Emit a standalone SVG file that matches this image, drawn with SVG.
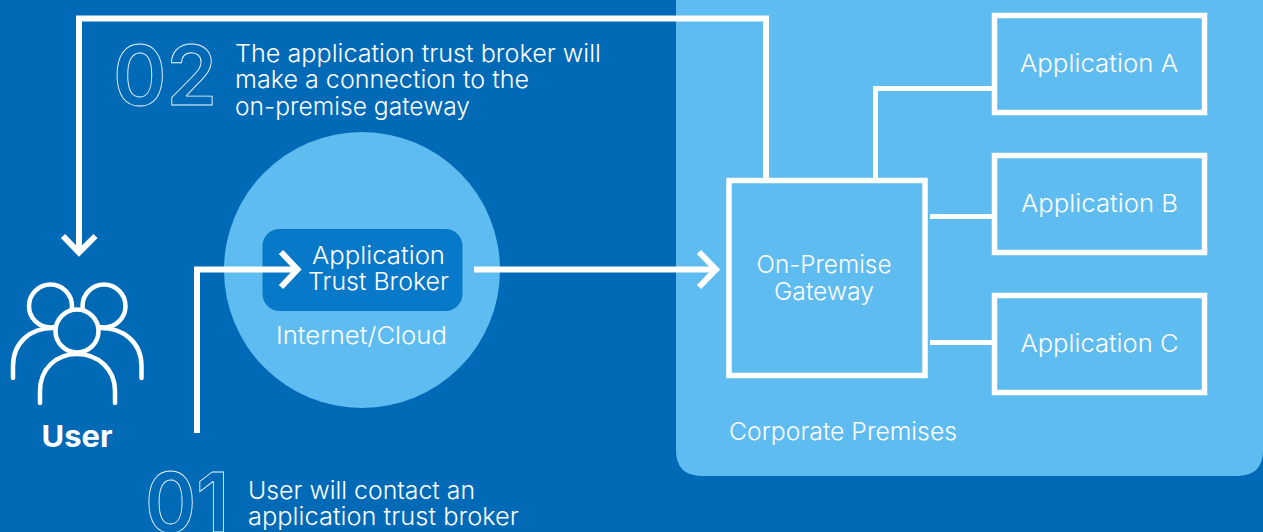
<svg xmlns="http://www.w3.org/2000/svg" width="1263" height="532" viewBox="0 0 1263 532">
<defs><style>
text{font-family:"Inter","Liberation Sans",sans-serif;font-weight:300;fill:#fff;font-size:24px}
.m{text-anchor:middle}
.w{fill:none;stroke:#fff;stroke-width:6;stroke-miterlimit:10}
.ws{fill:none;stroke:#fff;stroke-width:5}
.box{fill:none;stroke:#fff;stroke-width:5.5}
.num{fill:none;stroke:#fff;stroke-width:0.9;stroke-opacity:.9;font-size:82px;font-weight:600}
.ic{fill:none;stroke:#fff;stroke-width:4.500;stroke-linecap:round}
</style></defs>
<rect width="1263" height="532" fill="#006AB7"/>
<g id="corporate-premises">
<path d="M676 -10H1263V450Q1263 476 1237 476H702Q676 476 676 450Z" fill="#5EBCF0"/>
<text x="729" y="440" textLength="228" lengthAdjust="spacingAndGlyphs">Corporate Premises</text>
</g>
<g id="internet-cloud">
<circle cx="362" cy="270" r="138" fill="#5EBCF0"/>
<text x="361.500" y="344" class="m" textLength="171" lengthAdjust="spacingAndGlyphs">Internet/Cloud</text>
</g>
<g id="trust-broker">
<rect x="262.500" y="229" width="200" height="82" rx="17" fill="#0878C8"/>
<text x="378.500" y="264" class="m" textLength="133" lengthAdjust="spacingAndGlyphs">Application</text>
<text x="378.500" y="289.500" class="m" textLength="141" lengthAdjust="spacingAndGlyphs">Trust Broker</text>
</g>
<g id="gateway">
<rect x="729" y="180.500" width="196" height="195" class="box"/>
<text x="824" y="273" class="m" textLength="135" lengthAdjust="spacingAndGlyphs">On-Premise</text>
<text x="824" y="300" class="m" textLength="100" lengthAdjust="spacingAndGlyphs">Gateway</text>
</g>
<g id="app-a"><rect x="994.500" y="15.500" width="210" height="97" class="box"/><text x="1099" y="72" class="m" textLength="158" lengthAdjust="spacingAndGlyphs">Application A</text></g>
<g id="app-b"><rect x="994.500" y="155.500" width="210" height="97" class="box"/><text x="1099.500" y="212" class="m" textLength="157" lengthAdjust="spacingAndGlyphs">Application B</text></g>
<g id="app-c"><rect x="994.500" y="295.500" width="210" height="97" class="box"/><text x="1099.500" y="352" class="m" textLength="158" lengthAdjust="spacingAndGlyphs">Application C</text></g>
<g id="connectors">
<path class="w" d="M197 433V269.500H296"/>
<path class="w" d="M281 252L297.500 269.500L281 287" />
<path class="w" d="M474 269.500H716"/>
<path class="w" d="M699 252L716 269.500L699 287"/>
<path class="w" d="M766 180V18.500H79V252"/>
<path class="w" d="M63 236L79 252.500L95.500 236"/>
<path class="ws" d="M875.500 180V88.500H994"/>
<path class="ws" d="M930 216.500H994"/>
<path class="ws" d="M930 342.500H994"/>
</g>
<g id="user">
<circle cx="50.500" cy="306" r="21.500" class="ic"/>
<circle cx="104" cy="306" r="21.500" class="ic"/>
<path class="ic" d="M13 378V366C13 342 31 328 53 328"/>
<path class="ic" d="M141.500 378V366C141.500 342 123 328 101 328"/>
<circle cx="77" cy="331" r="21.500" class="ic" style="fill:#006AB7"/>
<path class="ic" d="M40 403V391C40 369 56 354 77 354C98 354 115 369 115 391V403"/>
<text x="77" y="447" class="m" style="font-weight:700;font-size:30px" textLength="71" lengthAdjust="spacingAndGlyphs">User</text>
</g>
<g id="step-02">
<text x="113" y="105" class="num" textLength="104" lengthAdjust="spacingAndGlyphs">02</text>
<text x="235" y="62" textLength="366" lengthAdjust="spacingAndGlyphs">The application trust broker will</text>
<text x="235" y="88" textLength="294" lengthAdjust="spacingAndGlyphs">make a connection to the</text>
<text x="235" y="115" textLength="235" lengthAdjust="spacingAndGlyphs">on-premise gateway</text>
</g>
<g id="step-01">
<text x="145" y="531.500" class="num" textLength="84" lengthAdjust="spacingAndGlyphs">01</text>
<text x="248" y="499" textLength="227" lengthAdjust="spacingAndGlyphs">User will contact an</text>
<text x="248" y="525" textLength="271" lengthAdjust="spacingAndGlyphs">application trust broker</text>
</g>
</svg>
